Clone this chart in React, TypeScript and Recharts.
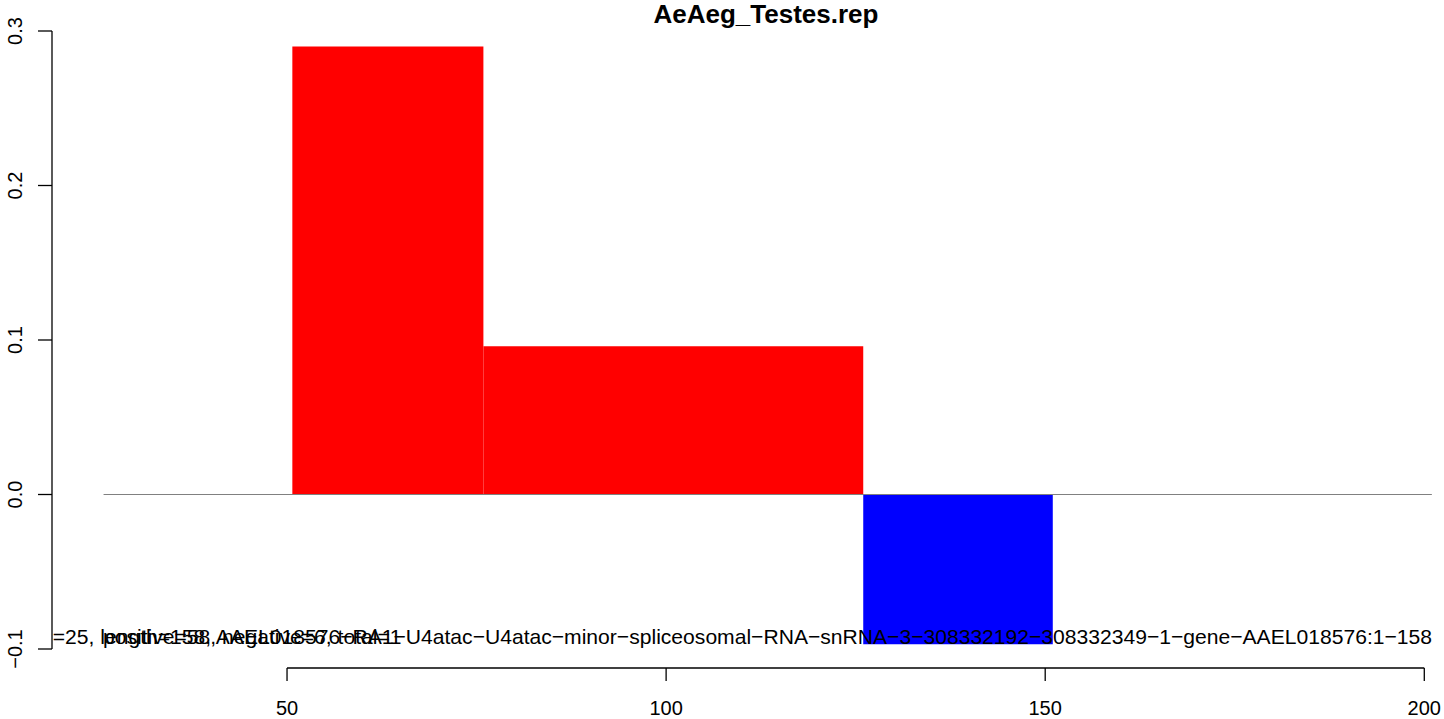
import React from 'react';
import { ComposedChart, Line, XAxis, YAxis, ReferenceArea, ReferenceLine } from 'recharts';

const chartTitle = 'AeAeg_Testes.rep';
const xTicks = [50, 100, 150, 200];
const yTicks = [-0.1, 0, 0.1, 0.2, 0.3];
const binStart = [50.7, 75.9, 126];
const binEnd = [75.9, 126, 151];
const binValue = [0.29, 0.096, -0.097];
const binColor = ['#FF0000', '#FF0000', '#0000FF'];
const baselineX = [25.8, 201];
const baselineY = [0, 0];
const infoLabel = 'positive=58, negative=6, total=1';
const nameLabel = '=25, length=158, AAEL018576\u2212RA1\u2212U4atac\u2212U4atac\u2212minor\u2212spliceosomal\u2212RNA\u2212snRNA\u22123\u2212308332192\u2212308332349\u22121\u2212gene\u2212AAEL018576:1\u2212158';

const W = 1444;
const H = 719;
const FONT = '"Liberation Sans", Arial, sans-serif';

const baselineData = baselineX.map((x, i) => ({ x, y: baselineY[i] }));

const fmtY = (v: number) => v.toFixed(1).replace('-', '\u2212');

const YTick = (props: any) => {
  const { y, payload } = props;
  const cx = 22;
  return (
    <text x={cx} y={y} transform={`rotate(-90, ${cx}, ${y})`} textAnchor="middle" fontFamily={FONT} fontSize={20} fill="#000">
      {fmtY(payload.value)}
    </text>
  );
};

const XTick = (props: any) => {
  const { x, y, payload } = props;
  return (
    <g>
      <line x1={x} x2={x} y1={y + 19} y2={y + 32} stroke="#000" strokeWidth={1.3} />
      <text x={x} y={y + 66} textAnchor="middle" fontFamily={FONT} fontSize={20} fill="#000">
        {payload.value}
      </text>
    </g>
  );
};

export default function App() {
  return (
    <div style={{ position: 'absolute', left: 0, top: 0, width: W, height: H, background: '#fff' }}>
      <ComposedChart width={W} height={H} data={baselineData} margin={{ top: 31, right: 0, bottom: 0, left: 0 }}>
        <XAxis
          dataKey="x"
          type="number"
          domain={[19, 202.6]}
          ticks={xTicks}
          allowDataOverflow
          axisLine={false}
          tickLine={false}
          tickSize={0}
          tickMargin={0}
          height={70}
          tick={<XTick />}
          interval={0}
        />
        <YAxis
          type="number"
          domain={[-0.1, 0.3]}
          ticks={yTicks}
          allowDataOverflow
          width={52}
          axisLine={{ stroke: '#000', strokeWidth: 1.3 }}
          tickLine={{ stroke: '#000', strokeWidth: 1.3 }}
          tickSize={14}
          tick={<YTick />}
          interval={0}
        />
        <Line dataKey="y" stroke="#808080" strokeWidth={1} dot={false} isAnimationActive={false} />
        {binValue.map((v, i) => (
          <ReferenceArea
            key={i}
            x1={binStart[i]}
            x2={binEnd[i]}
            y1={0}
            y2={v}
            fill={binColor[i]}
            fillOpacity={1}
            stroke="none"
            ifOverflow="visible"
          />
        ))}
        <ReferenceLine
          segment={[{ x: xTicks[0], y: -0.1123 }, { x: xTicks[xTicks.length - 1], y: -0.1123 }]}
          stroke="#000"
          strokeWidth={1.3}
          ifOverflow="visible"
        />
      </ComposedChart>
      <svg width={W} height={H} style={{ position: 'absolute', left: 0, top: 0, pointerEvents: 'none' }}>
        <defs>
          <clipPath id="plotclip">
            <rect x={53} y={0} width={W - 53} height={H} />
          </clipPath>
        </defs>
        <text x={766} y={23} textAnchor="middle" fontFamily={FONT} fontWeight="bold" fontSize={26} fill="#000">
          {chartTitle}
        </text>
        <g clipPath="url(#plotclip)">
          <text x={1432} y={644} textAnchor="end" fontFamily={FONT} fontSize={21.1} fill="#000">
            {nameLabel}
          </text>
          <text x={103} y={644} textAnchor="start" fontFamily={FONT} fontSize={21.1} fill="#000">
            {infoLabel}
          </text>
        </g>
      </svg>
    </div>
  );
}
